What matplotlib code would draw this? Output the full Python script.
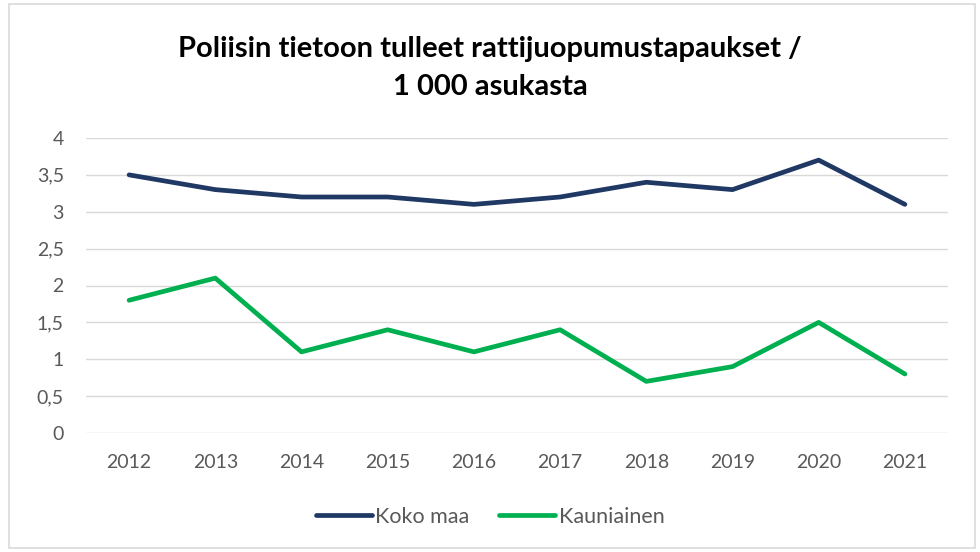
import matplotlib
matplotlib.use("Agg")
import matplotlib.pyplot as plt
from matplotlib.patches import Rectangle

years = ["2012", "2013", "2014", "2015", "2016", "2017", "2018", "2019", "2020", "2021"]
koko_maa = [3.5, 3.3, 3.2, 3.2, 3.1, 3.2, 3.4, 3.3, 3.7, 3.1]
kauniainen = [1.8, 2.1, 1.1, 1.4, 1.1, 1.4, 0.7, 0.9, 1.5, 0.8]
yticks = [0, 0.5, 1, 1.5, 2, 2.5, 3, 3.5, 4]
ytick_labels = ["0", "0,5", "1", "1,5", "2", "2,5", "3", "3,5", "4"]
title = "Poliisin tietoon tulleet rattijuopumustapaukset /\n1 000 asukasta"

plt.rcParams['font.family'] = ['Lato', 'DejaVu Sans']

fig = plt.figure(figsize=(9.8, 5.52), dpi=100)
fig.patches.append(Rectangle((9/980, 4/552), 966/980, 544/552, transform=fig.transFigure,
                             fill=False, edgecolor="#D9D9D9", linewidth=1.2))
ax = fig.add_axes([86/980, 1-433/552, (948-86)/980, (433-138)/552])

x = list(range(len(years)))
ax.plot(x, koko_maa, color="#1F3864", lw=3.4, solid_capstyle="round", label="Koko maa")
ax.plot(x, kauniainen, color="#00B050", lw=3.4, solid_capstyle="round", label="Kauniainen")

ax.set_xlim(-0.5, len(years) - 0.5)
ax.set_ylim(0, 4)
ax.set_yticks(yticks)
ax.set_yticklabels(ytick_labels)
ax.set_xticks(x)
ax.set_xticklabels(years)
ax.grid(axis="y", color="#D9D9D9", lw=1)
ax.set_axisbelow(True)
for s in ax.spines.values():
    s.set_visible(False)
ax.tick_params(length=0, colors="#595959", labelsize=14)
ax.tick_params(axis="x", pad=15)
ax.tick_params(axis="y", pad=16)

fig.text(0.5, 1-68/552, title, ha="center", va="center", fontsize=21, fontweight="bold",
         color="black", linespacing=1.55)

leg = fig.legend(loc="center", bbox_to_anchor=(0.5, 1-517/552), ncol=2, frameon=False,
                 fontsize=15.5, handlelength=2.6, handletextpad=0.15, columnspacing=1.4)
for t in leg.get_texts():
    t.set_color("#595959")

fig.savefig("out.png", dpi=100)
